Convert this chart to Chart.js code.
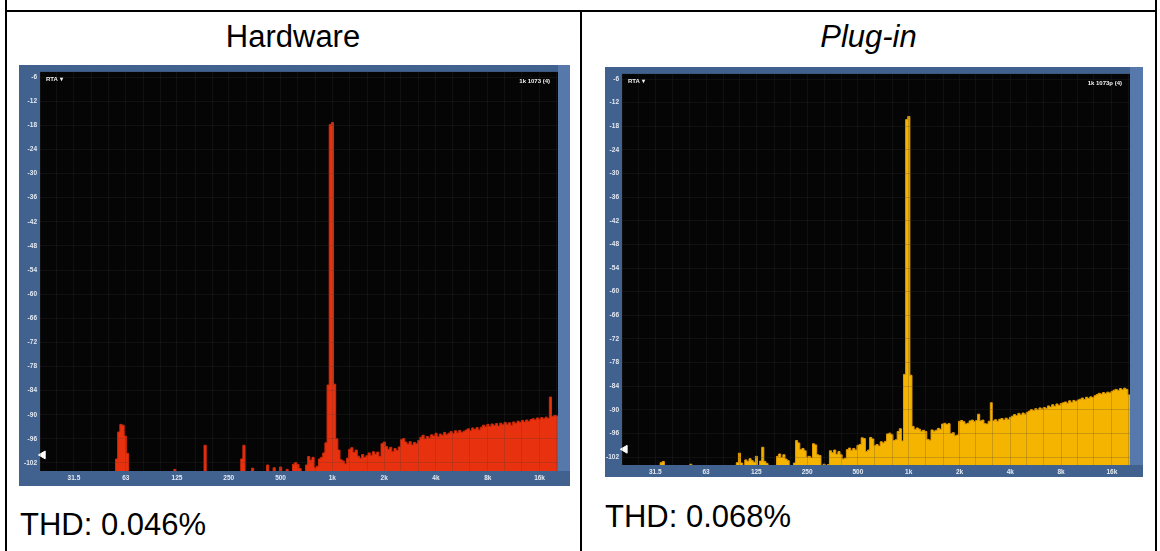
<!DOCTYPE html>
<html>
<head>
<meta charset="utf-8">
<script src="https://cdn.jsdelivr.net/npm/chart.js@4.4.1/dist/chart.umd.min.js"></script>
<style>
  body { margin: 0; background: #fff; width: 1160px; height: 551px; overflow: hidden; position: relative;
         font-family: "Liberation Sans", Arial, sans-serif; }
  .rule { position: absolute; background: #000; }
  .txt { position: absolute; font-size: 31px; line-height: 31px; color: #000; white-space: nowrap; }
  .panel { position: absolute; background: #41628f; }
  .panel canvas { display: block; }
</style>
</head>
<body>
<div class="rule" style="left:5px;top:0;width:2px;height:551px"></div>
<div class="rule" style="left:5px;top:10px;width:1152px;height:2px"></div>
<div class="rule" style="left:580px;top:10px;width:2px;height:541px"></div>
<div class="rule" style="left:1155px;top:0;width:2px;height:551px"></div>

<div class="txt" style="left:6px;top:21px;width:574px;text-align:center">Hardware</div>
<div class="txt" style="left:582px;top:21px;width:573px;text-align:center;font-style:italic">Plug-in</div>
<div class="txt" style="left:20px;top:509px">THD: 0.046%</div>
<div class="txt" style="left:605px;top:501px">THD: 0.068%</div>

<div class="panel" style="left:19px;top:65px;width:551px;height:421px"><canvas id="hwChart" width="551" height="421"></canvas></div>
<div class="panel" style="left:605px;top:67px;width:538px;height:410px"><canvas id="plugChart" width="538" height="410"></canvas></div>

<script>
// RTA bins: 1/24 octave, starting at 20 Hz, 10 octaves (one row = one octave)
const binStart = 20;
const binsPerOctave = 24;

const hardwareDb = [
  -110,-110,-110,-110,-110,-110,-110,-110,-110,-110,-110,-110,-110,-110,-110,-110,-110,-110,-110,-110,-110,-110,-110,-110,
  -110,-110,-110,-110,-110,-110,-110,-110,-110,-110,-110,-101.0,-94.3,-92.4,-92.6,-95.3,-99.6,-110,-110,-110,-110,-110,-110,-110,
  -110,-110,-110,-110,-110,-110,-110,-110,-110,-110,-110,-110,-110,-110,-103.6,-110,-110,-110,-110,-110,-110,-110,-110,-110,
  -110,-110,-110,-110,-97.6,-110,-110,-110,-110,-110,-110,-110,-110,-110,-110,-110,-110,-110,-110,-110,-110,-101.0,-97.6,-110,
  -110,-110,-103.3,-110,-110,-110,-110,-110,-110,-102.5,-110,-110,-103.2,-110,-110,-103.0,-110,-110,-103.6,-110,-110,-102.3,-101.9,-102.4,
  -103.4,-110,-110,-102.5,-100.4,-101.3,-100.6,-103.2,-102.8,-101.0,-100.6,-99.5,-97.0,-82.6,-17.8,-17.3,-82.4,-96.0,-98.8,-101.2,-101.5,-102.2,-100.8,-98.6,
  -98.2,-99.4,-98.8,-100.3,-100.8,-99.9,-100.6,-100.2,-99.5,-100.1,-99.2,-99.8,-99.3,-100.4,-97.2,-96.8,-97.9,-98.6,-98.1,-99.2,-98.4,-98.9,-98.0,-96.2,
  -95.9,-96.8,-97.3,-96.7,-97.5,-96.9,-97.2,-96.4,-95.6,-95.1,-96.0,-95.4,-95.8,-95.0,-95.3,-94.6,-95.5,-94.8,-95.1,-94.4,-95.0,-94.6,-94.2,-94.7,
  -94.0,-94.5,-93.9,-94.4,-94.1,-93.8,-93.5,-94.0,-93.3,-93.7,-93.2,-93.8,-93.1,-92.6,-93.0,-92.4,-92.9,-92.3,-92.7,-92.2,-92.8,-92.1,-92.5,-91.9,
  -92.4,-92.0,-92.6,-91.8,-92.2,-91.6,-91.9,-91.4,-91.8,-91.3,-91.7,-91.2,-91.0,-91.3,-90.8,-91.1,-90.7,-91.0,-90.6,-90.9,-85.6,-90.4,-90.2,-90.3
];

const pluginDb = [
  -110,-110,-110,-110,-110,-110,-110,-110,-110,-110,-110,-110,-110,-110,-110,-110,-110,-110,-103.4,-103.1,-110,-110,-110,-110,
  -110,-110,-110,-110,-110,-110,-110,-110,-103.8,-110,-110,-110,-110,-110,-110,-110,-110,-110,-110,-110,-110,-110,-110,-110,
  -110,-110,-110,-110,-110,-110,-103.4,-101.0,-103.5,-110,-102.7,-103.1,-102.4,-102.9,-103.3,-101.8,-110,-103.0,-99.5,-103.1,-103.6,-110,-110,-110,
  -110,-101.8,-101.2,-102.1,-101.4,-102.5,-102.9,-110,-110,-103.5,-97.8,-98.4,-100.1,-99.8,-100.4,-102.0,-101.8,-102.2,-98.6,-98.9,-101.4,-101.6,-110,-103.8,
  -110,-103.9,-100.4,-100.9,-100.2,-101.3,-100.6,-101.4,-102.5,-102.3,-100.1,-99.7,-100.3,-99.8,-100.2,-99.0,-98.8,-97.1,-97.3,-100.6,-100.2,-97.0,-97.4,-99.1,
  -98.8,-99.2,-98.1,-98.4,-98.0,-96.1,-95.9,-96.3,-97.8,-97.6,-95.5,-94.8,-97.9,-81.0,-16.3,-15.5,-81.2,-94.2,-95.0,-94.6,-94.9,-95.4,-95.2,-95.5,
  -97.5,-97.7,-95.1,-95.4,-95.2,-94.7,-94.9,-93.6,-93.4,-93.7,-93.5,-96.0,-95.8,-96.6,-96.4,-92.9,-92.7,-93.0,-93.6,-93.4,-92.8,-92.6,-93.0,-92.7,
  -91.1,-92.8,-92.6,-93.5,-93.6,-92.9,-88.2,-92.8,-92.5,-92.9,-92.4,-92.2,-92.6,-92.1,-92.5,-91.9,-91.6,-91.2,-91.5,-90.9,-91.3,-90.8,-91.1,-90.6,
  -90.3,-89.9,-90.2,-89.7,-90.0,-89.5,-89.8,-89.4,-89.6,-89.0,-89.3,-88.7,-89.1,-88.5,-88.9,-88.4,-88.2,-88.0,-88.3,-87.7,-88.1,-87.6,-87.9,-87.5,
  -87.3,-87.0,-87.4,-86.8,-87.1,-86.7,-86.9,-86.4,-86.1,-85.8,-86.0,-85.6,-85.9,-85.5,-85.7,-85.3,-85.0,-84.8,-85.1,-84.6,-84.9,-84.5,-84.8,-86.2
];

// axis ticks
const freqLabelValues = [31.5, 63, 125, 250, 500, 1000, 2000, 4000, 8000, 16000];
const freqLabels = ['31.5', '63', '125', '250', '500', '1k', '2k', '4k', '8k', '16k'];
const gridFreqs = [20, 25, 31.5, 40, 50, 63, 80, 100, 125, 160, 200, 250, 315, 400, 500, 630, 800, 1000,
  1250, 1600, 2000, 2500, 3150, 4000, 5000, 6300, 8000, 10000, 12500, 16000, 20000];
const dbTicks = [-6, -12, -18, -24, -30, -36, -42, -48, -54, -60, -66, -72, -78, -84, -90, -96, -102];
const markerLevel = -100;

const freqMin = 20, freqMax = 20480;

function toPoints(values) {
  const pts = values.map((v, i) => ({ x: binStart * Math.pow(2, i / binsPerOctave), y: v }));
  pts.push({ x: freqMax, y: values[values.length - 1] });
  return pts;
}

const rtaFrame = {
  id: 'rtaFrame',
  beforeDraw(chart) {
    const { ctx, chartArea: a } = chart;
    ctx.save();
    ctx.fillStyle = '#050505';
    ctx.fillRect(a.left, a.top, a.right - a.left, a.bottom - a.top);
    ctx.fillStyle = '#5678ab';
    ctx.fillRect(a.right, 0, chart.width - a.right, a.bottom);
    ctx.restore();
  },
  afterDraw(chart, args, opts) {
    const { ctx, chartArea: a } = chart;
    ctx.save();
    ctx.fillStyle = '#f2f2f2';
    ctx.font = 'bold 6px "Liberation Sans", Arial, sans-serif';
    ctx.textBaseline = 'middle';
    ctx.textAlign = 'left';
    ctx.fillText('RTA \u25BE', a.left + 6, a.top + 7);
    ctx.textAlign = 'right';
    ctx.fillText(opts.tag, a.right - 8, a.top + 9);
    ctx.restore();
  }
};

function makeChart(id, values, fill, line, tag, yWidth, xHeight, padRight) {
  const tickFont = { family: '"Liberation Sans", Arial, sans-serif', size: 6.5, weight: 'bold' };
  return new Chart(document.getElementById(id), {
    type: 'line',
    data: {
      datasets: [{
        data: toPoints(values),
        stepped: true,
        fill: 'start',
        backgroundColor: fill,
        borderColor: line,
        borderWidth: 1,
        pointRadius: 0
      }, {
        type: 'scatter',
        data: [{ x: 20.8, y: markerLevel }],
        pointStyle: 'triangle',
        rotation: -90,
        pointRadius: 4.5,
        backgroundColor: '#ffffff',
        borderColor: '#ffffff',
        clip: false
      }]
    },
    options: {
      responsive: false,
      animation: false,
      layout: { padding: { top: 1, right: padRight, left: 0, bottom: 0 } },
      plugins: { legend: { display: false }, tooltip: { enabled: false }, rtaFrame: { tag: tag } },
      scales: {
        x: {
          type: 'logarithmic',
          min: freqMin,
          max: freqMax,
          afterBuildTicks: (s) => { s.ticks = gridFreqs.map(v => ({ value: v })); },
          afterFit: (s) => { s.height = xHeight; },
          ticks: {
            autoSkip: false, maxRotation: 0, padding: 3, color: '#e4eaf3', font: tickFont,
            callback: (v) => { const k = freqLabelValues.indexOf(v); return k >= 0 ? freqLabels[k] : ''; }
          },
          grid: { color: 'rgba(60,60,60,0.22)', drawTicks: false, z: 1 },
          border: { display: false }
        },
        y: {
          min: -104,
          max: -4.7,
          afterBuildTicks: (s) => { s.ticks = dbTicks.map(v => ({ value: v })); },
          afterFit: (s) => { s.width = yWidth; },
          ticks: { padding: 3, color: '#e4eaf3', font: tickFont },
          grid: { color: 'rgba(60,60,60,0.22)', drawTicks: false, z: 1 },
          border: { display: false }
        }
      }
    },
    plugins: [rtaFrame]
  });
}

makeChart('hwChart', hardwareDb, '#e8310f', '#d02a0a', '1k 1073 (4)', 21, 15, 12);
makeChart('plugChart', pluginDb, '#f5b400', '#e39c00', '1k 1073p (4)', 17, 12, 13);
</script>
</body>
</html>
